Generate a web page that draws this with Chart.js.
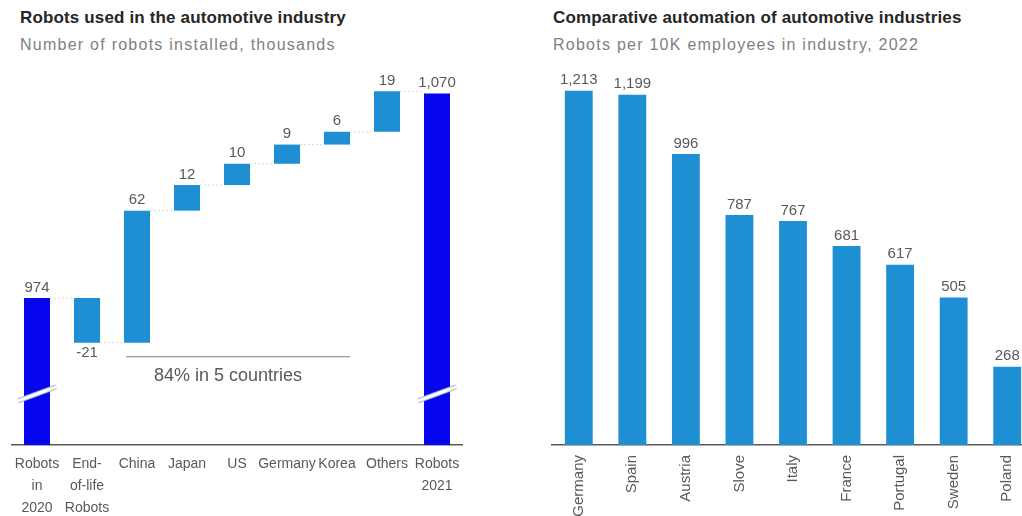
<!DOCTYPE html>
<html>
<head>
<meta charset="utf-8">
<script src="https://cdn.jsdelivr.net/npm/chart.js@4.4.1/dist/chart.umd.min.js"></script>
<style>
  html, body { margin: 0; padding: 0; background: #fff; overflow: hidden; width: 1022px; height: 516px; }
  .title { position: absolute; font-family: "Liberation Sans", Arial, sans-serif; font-weight: bold; font-size: 17px; color: #262626; letter-spacing: 0.15px; }
  .sub { position: absolute; font-family: "Liberation Sans", Arial, sans-serif; font-size: 16px; color: #7f7f7f; letter-spacing: 1.25px; }
  .box { position: absolute; top: 0; height: 516px; }
</style>
</head>
<body>
<div class="title" style="left:20px; top:8px;">Robots used in the automotive industry</div>
<div class="sub" style="left:20px; top:36px;">Number of robots installed, thousands</div>
<div class="title" style="left:553px; top:8px;">Comparative automation of automotive industries</div>
<div class="sub" style="left:553px; top:36px;">Robots per 10K employees in industry, 2022</div>

<div class="box" style="left:0; width:478px;"><canvas id="chart1"></canvas></div>
<div class="box" style="left:540px; width:500px;"><canvas id="chart2"></canvas></div>

<script>
// waterfall: robots in automotive industry (thousands)
const wfLabels = [['Robots', 'in', '2020'], ['End-', 'of-life', 'Robots'], 'China', 'Japan', 'US', 'Germany', 'Korea', 'Others', ['Robots', '2021']];
const wfValues = [974, -21, 62, 12, 10, 9, 6, 19, 1070];
const wfIsTotal = [true, false, false, false, false, false, false, false, true];
const wfAxisMin = 905;
const wfAxisMax = 1081;
const wfBreakAt = 929;

// robots per 10K employees, 2022
const densLabels = ['Germany', 'Spain', 'Austria', 'Slove', 'Italy', 'France', 'Portugal', 'Sweden', 'Poland'];
const densValues = [1213, 1199, 996, 787, 767, 681, 617, 505, 268];

const blueTotal = '#0505ee';
const blueBar = '#1f8fd3';
const textGrey = '#595959';
const fontFamily = '"Liberation Sans", Arial, sans-serif';

// build floating ranges from the deltas
let running = 0;
const wfRanges = wfValues.map((v, i) => {
    if (wfIsTotal[i]) { running = v; return [0, v]; }
    const r = [running, running + v];
    running += v;
    return r;
});

const fmt = v => v.toLocaleString('en-US');

const waterfallDeco = {
    id: 'waterfallDeco',
    afterDatasetsDraw(chart) {
        const ctx = chart.ctx;
        const bars = chart.getDatasetMeta(0).data;
        const y = chart.scales.y;
        ctx.save();

        // connectors
        ctx.strokeStyle = '#d9d9d9';
        ctx.lineWidth = 1;
        ctx.setLineDash([2, 2]);
        for (let i = 0; i < bars.length - 1; i++) {
            const a = bars[i], b = bars[i + 1];
            const yy = y.getPixelForValue(wfRanges[i][1]);
            ctx.beginPath();
            ctx.moveTo(a.x + a.width / 2, yy);
            ctx.lineTo(b.x - b.width / 2, yy);
            ctx.stroke();
        }
        ctx.setLineDash([]);

        // value labels
        ctx.fillStyle = textGrey;
        ctx.font = '15px ' + fontFamily;
        ctx.textAlign = 'center';
        bars.forEach((bar, i) => {
            const top = Math.min(bar.y, bar.base);
            const bottom = Math.max(bar.y, bar.base);
            if (wfValues[i] < 0) {
                ctx.textBaseline = 'top';
                ctx.fillText(fmt(wfValues[i]), bar.x, bottom + 3);
            } else {
                ctx.textBaseline = 'bottom';
                ctx.fillText(fmt(wfValues[i]), bar.x, top - 3);
            }
        });

        // axis break marks on the total bars
        const yb = y.getPixelForValue(wfBreakAt);
        bars.forEach((bar, i) => {
            if (!wfIsTotal[i]) return;
            const half = bar.width / 2 + 6;
            ctx.lineCap = 'butt';
            ctx.strokeStyle = '#aab4d6';
            ctx.lineWidth = 5;
            ctx.beginPath();
            ctx.moveTo(bar.x - half, yb + 7);
            ctx.lineTo(bar.x + half, yb - 7);
            ctx.stroke();
            ctx.strokeStyle = '#ffffff';
            ctx.lineWidth = 3;
            ctx.beginPath();
            ctx.moveTo(bar.x - half, yb + 7);
            ctx.lineTo(bar.x + half, yb - 7);
            ctx.stroke();
        });

        // "84% in 5 countries" bracket: China .. Korea
        const first = bars[2], last = bars[6];
        const x0 = first.x - first.width / 2 + 2;
        const x1 = last.x + last.width / 2;
        const ly = y.getPixelForValue(wfRanges[1][1]) + 14;
        ctx.strokeStyle = '#7f7f7f';
        ctx.lineWidth = 1;
        ctx.beginPath();
        ctx.moveTo(x0, ly);
        ctx.lineTo(x1, ly);
        ctx.stroke();
        ctx.fillStyle = textGrey;
        ctx.font = '18px ' + fontFamily;
        ctx.textBaseline = 'middle';
        ctx.fillText('84% in 5 countries', (x0 + x1) / 2 - 10, ly + 19);
        ctx.restore();
    }
};

const barLabels = {
    id: 'barLabels',
    afterDatasetsDraw(chart) {
        const ctx = chart.ctx;
        ctx.save();
        ctx.fillStyle = textGrey;
        ctx.font = '15px ' + fontFamily;
        ctx.textAlign = 'center';
        ctx.textBaseline = 'bottom';
        chart.getDatasetMeta(0).data.forEach((bar, i) => {
            ctx.fillText(fmt(densValues[i]), bar.x, bar.y - 3);
        });
        ctx.restore();
    }
};

const charts = {
    waterfall: new Chart(document.getElementById('chart1'), {
        type: 'bar',
        data: {
            labels: wfLabels,
            datasets: [{
                data: wfRanges,
                backgroundColor: wfIsTotal.map(t => t ? blueTotal : blueBar),
                categoryPercentage: 1,
                barPercentage: 0.52,
                borderSkipped: false
            }]
        },
        options: {
            responsive: true,
            maintainAspectRatio: false,
            animation: false,
            layout: { padding: { top: 70, left: 12, right: 16, bottom: 0 } },
            plugins: { legend: { display: false }, tooltip: { enabled: false } },
            scales: {
                x: {
                    grid: { display: false },
                    border: { display: true, color: textGrey, width: 1.5 },
                    ticks: {
                        color: textGrey,
                        font: { family: fontFamily, size: 14, lineHeight: 1.57 },
                        maxRotation: 0, minRotation: 0, autoSkip: false, padding: 0
                    },
                    afterFit: s => { s.height = 71; }
                },
                y: { display: false, min: wfAxisMin, max: wfAxisMax }
            }
        },
        plugins: [waterfallDeco]
    }),
    density: new Chart(document.getElementById('chart2'), {
        type: 'bar',
        data: {
            labels: densLabels,
            datasets: [{
                data: densValues,
                backgroundColor: blueBar,
                categoryPercentage: 1,
                barPercentage: 0.52
            }]
        },
        options: {
            responsive: true,
            maintainAspectRatio: false,
            animation: false,
            layout: { padding: { top: 74, left: 12, right: 6, bottom: 0 } },
            plugins: { legend: { display: false }, tooltip: { enabled: false } },
            scales: {
                x: {
                    grid: { display: false },
                    border: { display: true, color: textGrey, width: 1.5 },
                    ticks: {
                        color: textGrey,
                        font: { family: fontFamily, size: 15 },
                        maxRotation: 90, minRotation: 90, autoSkip: false, padding: 2
                    },
                    afterFit: s => { s.height = 71; }
                },
                y: { display: false, min: 0, max: 1270 }
            }
        },
        plugins: [barLabels]
    })
};
</script>
</body>
</html>
